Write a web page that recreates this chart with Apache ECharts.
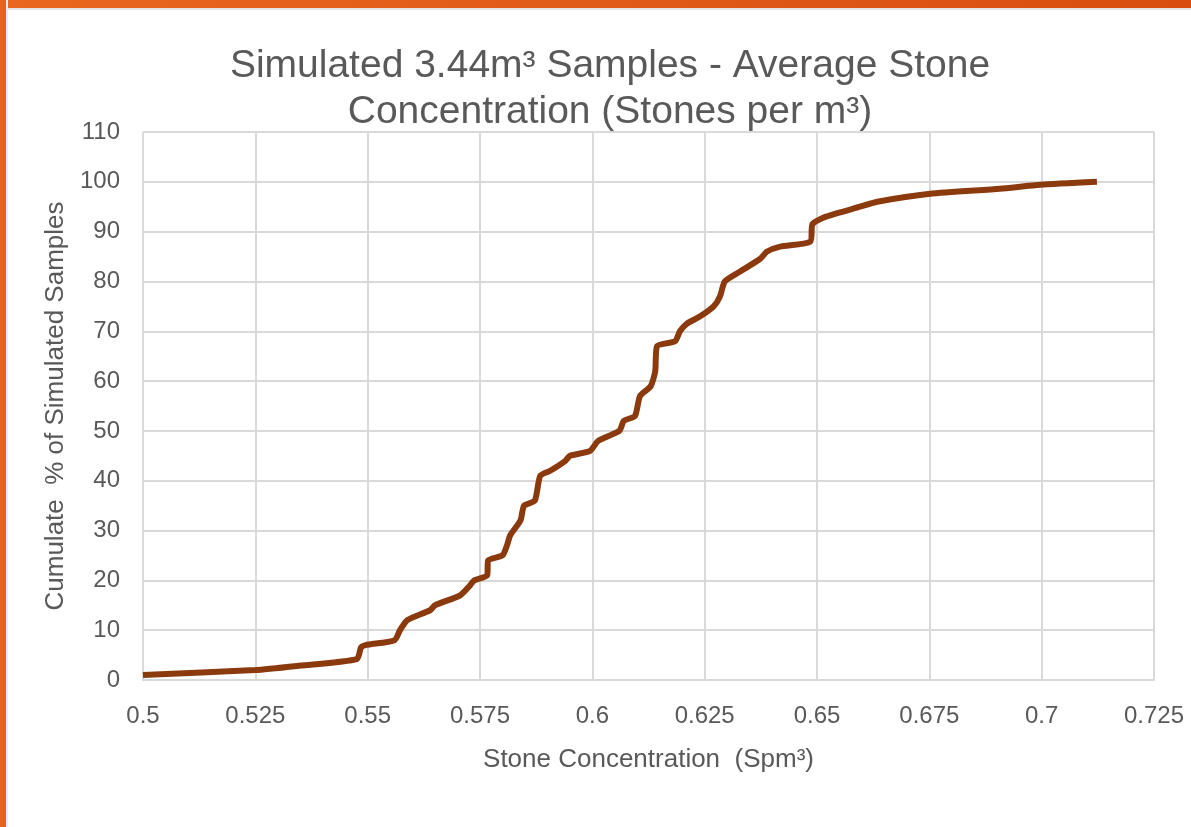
<!DOCTYPE html>
<html>
<head>
<meta charset="utf-8">
<script src="https://cdn.jsdelivr.net/npm/echarts@6/dist/echarts.min.js"></script>
<style>
  html, body { margin: 0; padding: 0; background: #fff; }
  #wrap { position: relative; width: 1191px; height: 827px; overflow: hidden; background: #fff; }
  #chart { position: absolute; left: 0; top: 0; width: 1191px; height: 827px; }
  .band-top { position: absolute; left: 0; top: 0; width: 1191px; height: 8px;
    background: linear-gradient(90deg, #e9671f, #d94e10); border-bottom: 2px solid #e6e6e6; }
  .band-left { position: absolute; left: 0; top: 0; width: 6px; height: 827px;
    background: #e8621c; border-right: 2px solid #ececec; }
</style>
</head>
<body>
<div id="wrap">
  <div id="chart"></div>
  <div class="band-top"></div>
  <div class="band-left"></div>
</div>
<script>
// stone concentration (Spm3)
var concentration = [
  0.5, 0.525, 0.535, 0.5476, 0.5485, 0.5495, 0.556, 0.5572, 0.5588, 0.5639,
  0.565, 0.5706, 0.5728, 0.5737, 0.5766, 0.5768, 0.58, 0.581, 0.5817, 0.584,
  0.5848, 0.5872, 0.5884, 0.5906, 0.594, 0.595, 0.5995, 0.6013, 0.606, 0.607,
  0.6095, 0.6106, 0.613, 0.614, 0.6144, 0.6184, 0.6195, 0.621, 0.624, 0.627,
  0.6284, 0.6295, 0.6329, 0.6373, 0.6389, 0.6418, 0.6485, 0.649, 0.652, 0.6596,
  0.6634, 0.6752, 0.6907, 0.6997, 0.7123
]
// cumulative % of simulated samples
var cumulative = [
  1, 2, 2.9, 4.2, 6.5, 7, 8, 10, 12, 14,
  15, 17, 19, 20, 21, 24, 25, 27, 29, 32,
  35, 36, 41, 42, 44, 45, 46, 48, 50, 52,
  53, 57, 59, 62, 67, 68, 70, 71.5, 73, 75,
  77, 80, 82, 84.5, 86, 87, 88, 91.5, 93, 95,
  96, 97.6, 98.6, 99.4, 100
]

var textColor = '#595959'
var gridColor = '#d9d9d9'

var points = concentration.map(function(x, i) {
  return [x, cumulative[i]]
})

var chart = echarts.init(document.getElementById('chart'))
chart.setOption({
  animation: false,
  textStyle: { fontFamily: 'Liberation Sans, Arial, sans-serif' },
  title: {
    text: 'Simulated 3.44m³ Samples - Average Stone\nConcentration (Stones per m³)',
    left: 605,
    top: 38,
    textAlign: 'center',
    textStyle: {
      fontSize: 39,
      fontWeight: 'normal',
      color: textColor,
      lineHeight: 46
    }
  },
  grid: {
    left: 143,
    right: 37,
    top: 132,
    bottom: 147
  },
  xAxis: {
    type: 'value',
    min: 0.5,
    max: 0.725,
    interval: 0.025,
    name: 'Stone Concentration  (Spm³)',
    nameLocation: 'middle',
    nameGap: 67,
    nameTextStyle: { fontSize: 26, color: textColor },
    axisLine: { lineStyle: { color: gridColor, width: 2 } },
    axisTick: { show: false },
    axisLabel: { fontSize: 24, color: textColor, margin: 24 },
    splitLine: { lineStyle: { color: gridColor, width: 2 } }
  },
  yAxis: {
    type: 'value',
    min: 0,
    max: 110,
    interval: 10,
    name: 'Cumulate  % of Simulated Samples',
    nameLocation: 'middle',
    nameGap: 72,
    nameTextStyle: { fontSize: 26, color: textColor },
    axisLine: { show: false },
    axisTick: { show: false },
    axisLabel: { fontSize: 24, color: textColor, margin: 23 },
    splitLine: { lineStyle: { color: gridColor, width: 2 } }
  },
  series: [
    {
      type: 'line',
      data: points,
      smooth: 0.2,
      showSymbol: false,
      lineStyle: { color: '#8b3a0e', width: 6 },
      itemStyle: { color: '#8b3a0e' }
    }
  ]
})
</script>
</body>
</html>
